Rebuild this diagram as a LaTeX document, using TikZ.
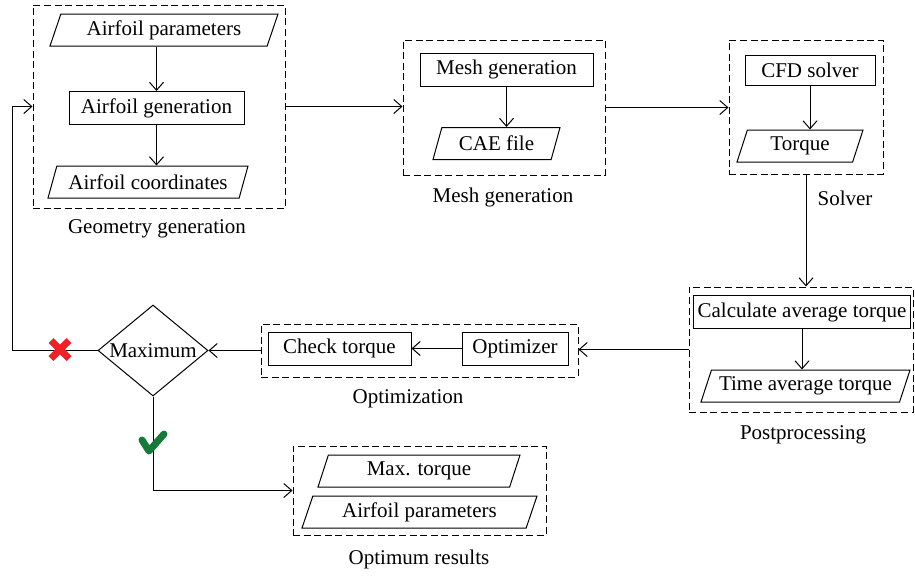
\documentclass[tikz,border=0pt]{standalone}
\usepackage{fontspec}
\setmainfont{Liberation Serif}
\usepackage{tikz}
\usetikzlibrary{shapes,fit,calc,positioning,arrows.meta}

\definecolor{crossred}{RGB}{236,34,38}
\definecolor{checkgreen}{RGB}{22,122,58}

\tikzset{
  every node/.append style={font=\fontsize{10.5}{12}\selectfont},
  proc/.style={draw, rectangle, minimum height=16.5pt, inner sep=2pt},
  io/.style={draw, trapezium, trapezium left angle=65, trapezium right angle=115,
    trapezium stretches body, minimum height=16pt, inner sep=1pt},
  group/.style={draw, dash pattern=on 3.5pt off 1.8pt, inner sep=0pt},
  grouplabel/.style={inner sep=0pt},
  decide/.style={draw, diamond, aspect=1.2, inner sep=0pt,
    minimum width=55pt, minimum height=45.5pt},
}

\begin{document}
\begin{tikzpicture}[x=0.5pt, y=-0.5pt, line width=0.5pt,
      >={Straight Barb[length=4pt,width=7pt]}]
    \useasboundingbox (0,0) rectangle (915,575);
    % geometry
    \node (params) [io, minimum width=114pt] at (164,30) {Airfoil parameters};
    \node (gen) [proc, minimum width=87.5pt] at (156.5,108) {Airfoil generation};
    \node (coords) [io, minimum width=100pt] at (148,182) {Airfoil coordinates};
    \node (geo) [group, fit={(33,5) (285,208)}] {};
    \node [grouplabel] at (157,229) {Geometry generation};
    % mesh
    \node (meshgen) [proc, minimum width=86.5pt] at (506.5,69.5) {Mesh generation};
    \node (cae) [io, minimum width=63.5pt] at (496.5,143.5) {CAE file};
    \node (meshgrp) [group, fit={(403,40) (605,175)}] {};
    \node [grouplabel] at (503,197) {Mesh generation};
    % solver
    \node (cfd) [proc, minimum width=65pt, minimum height=15pt] at (810,70) {CFD solver};
    \node (torque) [io, minimum width=63pt] at (800,146) {Torque};
    \node (solvergrp) [group, fit={(729,40) (883,174)}] {};
    \node [grouplabel] at (845,198) {Solver};
    % postprocessing
    \node (calc) [proc, minimum width=108pt] at (802,312) {Calculate average torque};
    \node (timeavg) [io, minimum width=104.5pt] at (805.5,386) {Time average torque};
    \node (postgrp) [group, fit={(689,287) (913,412)}] {};
    \node [grouplabel] at (803,435) {Postprocessing};
    % optimization
    \node (check) [proc, minimum width=71.5pt] at (339.5,348.5) {Check torque};
    \node (optimizer) [proc, minimum width=53pt] at (515,348.5) {Optimizer};
    \node (optgrp) [group, fit={(261,324) (578,377)}] {};
    \node [grouplabel] at (408,399) {Optimization};
    % decision and results
    \node (max) [decide] at (153,350.5) {Maximum};
    \node (maxtorque) [io, minimum width=101pt] at (419,471) {Max. torque};
    \node (bestparams) [io, minimum width=117.5pt] at (419.5,512) {Airfoil parameters};
    \node (resgrp) [group, fit={(293,446) (546,535)}] {};
    \node [grouplabel] at (419,559) {Optimum results};
    \coordinate (loop) at (12,350.5);

    \draw[->] (gen.north |- params.south) -- (gen.north);
    \draw[->] (gen) -- (gen.south |- coords.north);
    \draw[->] (geo.east) -- (geo.east -| meshgrp.west);
    \draw[->] (meshgen) -- (meshgen.south |- cae.north);
    \draw[->] (meshgrp.east) -- (meshgrp.east -| solvergrp.west);
    \draw[->] (cfd) -- (cfd.south |- torque.north);
    \draw[->] (solvergrp.south) -- (solvergrp.south |- postgrp.north);
    \draw[->] (calc) -- (calc.south |- timeavg.north);
    \draw[->] (postgrp.west) -- (postgrp.west -| optgrp.east);
    \draw[->] (optimizer) -- (check);
    \draw[->] (optgrp.west) -- (max.east);
    \draw[->] (max.west) -- (loop) |- (geo.west);
    \draw[->] (max.south) |- (resgrp.west);

    % no / yes marks
    \draw[crossred, line width=3.5pt] (51,340.5) -- (69,358.5) (51,358.5) -- (69,340.5);
    \draw[checkgreen, line width=3.5pt, line cap=round, line join=round]
      (142,440) -- (149,451) -- (164,434);
\end{tikzpicture}
\end{document}
